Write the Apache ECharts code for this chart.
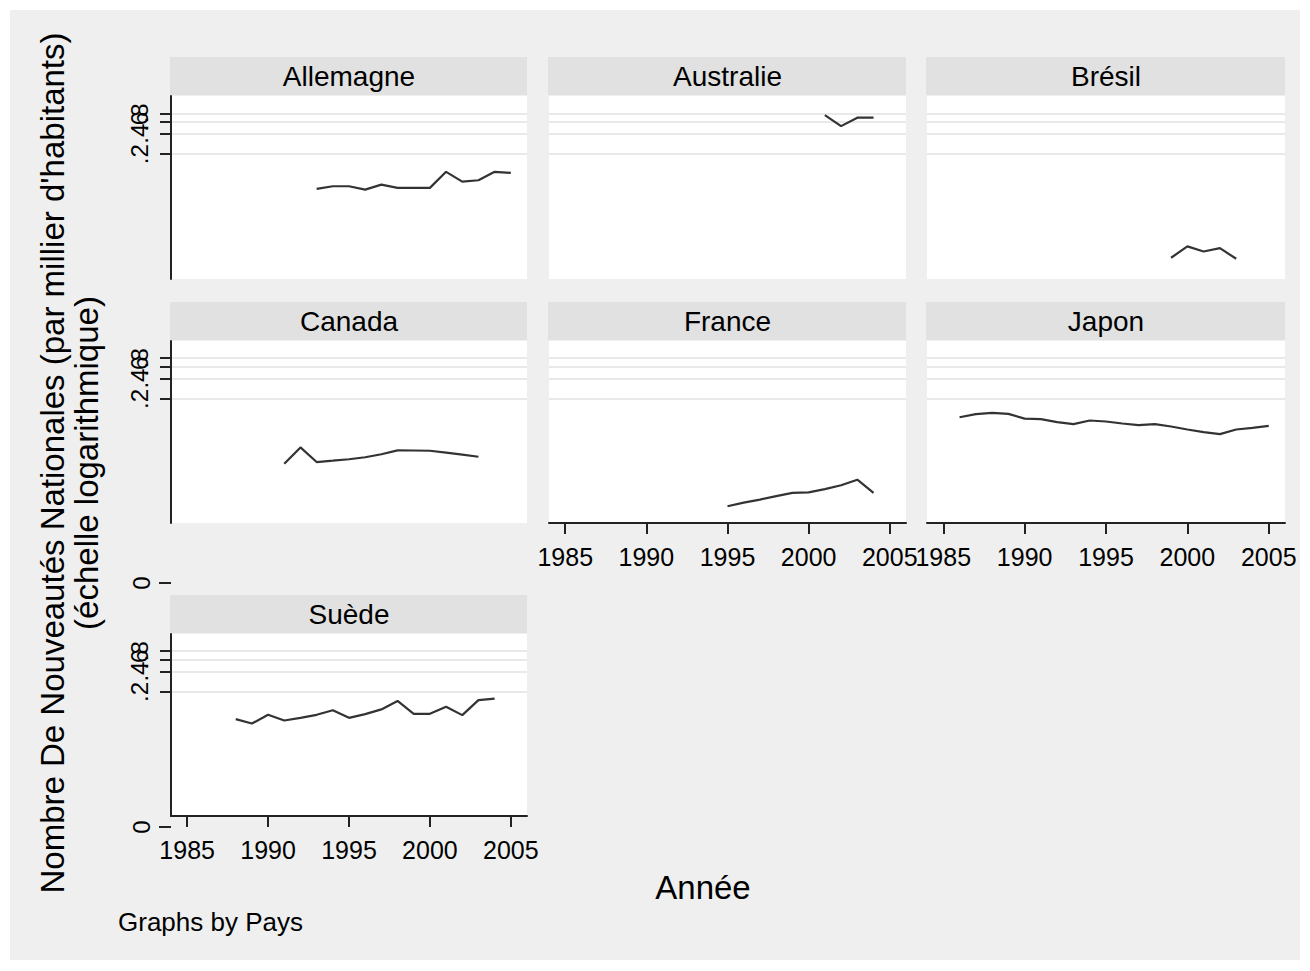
<!DOCTYPE html>
<html>
<head>
<meta charset="utf-8">
<script src="https://cdn.jsdelivr.net/npm/echarts@6/dist/echarts.min.js"></script>
<style>
html,body{margin:0;padding:0;background:#fff;}
#chart{width:1310px;height:971px;}
</style>
</head>
<body>
<div id="chart"></div>
<script>
// ---- Data (values per thousand inhabitants, log scale) ----
const panelNames = ['Allemagne', 'Australie', 'Brésil', 'Canada', 'France', 'Japon', 'Suède'];

const allemagneYears  = [1993, 1994, 1995, 1996, 1997, 1998, 1999, 2000, 2001, 2002, 2003, 2004, 2005];
const allemagneValues = [0.0616, 0.0674, 0.0674, 0.0602, 0.0713, 0.0638, 0.0638, 0.0638, 0.110, 0.079, 0.0826, 0.110, 0.106];

const australieYears  = [2001, 2002, 2003, 2004];
const australieValues = [0.754, 0.518, 0.690, 0.690];

const bresilYears  = [1999, 2000, 2001, 2002, 2003];
const bresilValues = [0.00596, 0.00876, 0.00738, 0.00828, 0.00576];

const canadaYears  = [1991, 1992, 1993, 1994, 1995, 1996, 1997, 1998, 1999, 2000, 2001, 2002, 2003];
const canadaValues = [0.0219, 0.0382, 0.0232, 0.0243, 0.0255, 0.0273, 0.0303, 0.0345, 0.0344, 0.0341, 0.0319, 0.0298, 0.0278];

const franceYears  = [1995, 1996, 1997, 1998, 1999, 2000, 2001, 2002, 2003, 2004];
const franceValues = [0.00513, 0.00582, 0.00645, 0.00726, 0.0081, 0.00826, 0.0092, 0.0105, 0.0127, 0.0081];

const japonYears  = [1986, 1987, 1988, 1989, 1990, 1991, 1992, 1993, 1994, 1995, 1996, 1997, 1998, 1999, 2000, 2001, 2002, 2003, 2004, 2005];
const japonValues = [0.107, 0.119, 0.124, 0.120, 0.102, 0.100, 0.0905, 0.0845, 0.0956, 0.0924, 0.0863, 0.0817, 0.0845, 0.078, 0.0704, 0.0644, 0.0602, 0.0704, 0.0746, 0.0798];

const suedeYears  = [1988, 1989, 1990, 1991, 1992, 1993, 1994, 1995, 1996, 1997, 1998, 1999, 2000, 2001, 2002, 2003, 2004];
const suedeValues = [0.079, 0.068, 0.0915, 0.0754, 0.0826, 0.0915, 0.107, 0.0826, 0.0937, 0.110, 0.147, 0.0947, 0.0947, 0.120, 0.0905, 0.151, 0.159];

const xTickValues = [1985, 1990, 1995, 2000, 2005];
const yTickValues = [0.2, 0.4, 0.6, 0.8];
const yTickLabels = ['.2', '.4', '.6', '.8'];
const zeroLabel = '0';

const yTitleLine1 = "Nombre De Nouveautés Nationales (par millier d'habitants)";
const yTitleLine2 = '(échelle logarithmique)';
const xTitle = 'Année';
const noteText = 'Graphs by Pays';

const panelYears = [allemagneYears, australieYears, bresilYears, canadaYears, franceYears, japonYears, suedeYears];
const panelValues = [allemagneValues, australieValues, bresilValues, canadaValues, franceValues, japonValues, suedeValues];

// ---- Layout ----
const colLeft = [171, 549, 927];
const colWidth = [356, 357, 358];
const rowTop = [96, 341, 634];
const rowHeight = [183, 182, 182];
const FONT = '"Liberation Sans", Arial, sans-serif';
const LINE = '#333333';
const AXIS = '#222222';
const Y_MIN = 0.0029, Y_MAX = 1.44;

// label groups drawn on separate (label-only) axes so the overlapping labels all stay visible, as in the original
const yLabelGroups = [[0.2, 0.8], [0.4], [0.6]];

function yLabelFormatter(v) {
  let best = 0;
  yTickValues.forEach((t, k) => { if (Math.abs(t - v) < Math.abs(yTickValues[best] - v)) best = k; });
  return yTickLabels[best];
}

const grids = [], xAxes = [], yAxes = [], extraYAxes = [], series = [], graphics = [];

graphics.push({type: 'rect', z: -100, silent: true, shape: {x: 10, y: 10, width: 1290, height: 950}, style: {fill: '#efefef'}});

panelNames.forEach((name, i) => {
  const col = i % 3, row = Math.floor(i / 3);
  const left = colLeft[col], top = rowTop[row], w = colWidth[col], h = rowHeight[row];
  grids.push({left: left, top: top, width: w, height: h, show: true, backgroundColor: '#ffffff', borderWidth: 0, containLabel: false});
  const showX = (i >= 4);
  const showY = (col === 0);
  xAxes.push({
    type: 'value', gridIndex: i, min: 1984, max: 2006,
    axisLine: {show: showX, onZero: false, lineStyle: {color: AXIS, width: 2}},
    axisTick: {show: showX, customValues: xTickValues, length: 11, lineStyle: {color: AXIS, width: 2}},
    axisLabel: {show: showX, customValues: xTickValues, fontSize: 25, fontFamily: FONT, color: '#000', margin: 21,
      showMinLabel: true, showMaxLabel: true, hideOverlap: false,
      formatter: function (v) { return String(Math.round(v)); }},
    splitLine: {show: false}
  });
  yAxes.push({
    type: 'log', gridIndex: i, min: Y_MIN, max: Y_MAX, logBase: 10,
    axisLine: {show: showY, lineStyle: {color: AXIS, width: 2}},
    axisTick: {show: showY, customValues: yTickValues, length: 11, lineStyle: {color: AXIS, width: 2}},
    axisLabel: {show: false, customValues: yTickValues},
    splitLine: {show: true, lineStyle: {color: '#e9e9e9', width: 2}}
  });
  if (showY) {
    yLabelGroups.forEach(group => {
      extraYAxes.push({
        type: 'log', gridIndex: i, min: Y_MIN, max: Y_MAX, logBase: 10, position: 'left', offset: 0,
        axisLine: {show: false}, axisTick: {show: false, customValues: group}, splitLine: {show: false},
        axisLabel: {show: true, customValues: group, rotate: 90, fontSize: 24, fontFamily: FONT, color: '#000', margin: 20,
          showMinLabel: true, showMaxLabel: true, hideOverlap: false, formatter: yLabelFormatter}
      });
    });
  }
  series.push({
    type: 'line', xAxisIndex: i, yAxisIndex: i, showSymbol: false, symbol: 'none',
    lineStyle: {color: LINE, width: 2.2}, silent: true, animation: false,
    data: panelYears[i].map((yr, k) => [yr, panelValues[i][k]])
  });
  // strip header
  graphics.push({type: 'rect', z: 1, silent: true, shape: {x: left - 1, y: top - 39, width: w + 1, height: 38}, style: {fill: '#e1e1e1'}});
  graphics.push({type: 'text', z: 2, silent: true, x: left + w / 2, y: top - 20,
    style: {text: name, font: '28px ' + FONT, fill: '#000', textAlign: 'center', textVerticalAlign: 'middle'}});
});

// zero labels (outside the log range, as in the original)
[583, 827].forEach(yy => {
  graphics.push({type: 'line', z: 2, silent: true, shape: {x1: 159, y1: yy, x2: 171, y2: yy}, style: {stroke: AXIS, lineWidth: 2}});
  graphics.push({type: 'text', z: 2, silent: true, x: 141, y: yy, rotation: Math.PI / 2,
    style: {text: zeroLabel, font: '24px ' + FONT, fill: '#000', textAlign: 'center', textVerticalAlign: 'middle'}});
});

// titles
graphics.push({type: 'text', z: 2, silent: true, x: 52, y: 463, rotation: Math.PI / 2,
  style: {text: yTitleLine1, font: '33px ' + FONT, fill: '#000', textAlign: 'center', textVerticalAlign: 'middle'}});
graphics.push({type: 'text', z: 2, silent: true, x: 86, y: 463, rotation: Math.PI / 2,
  style: {text: yTitleLine2, font: '33px ' + FONT, fill: '#000', textAlign: 'center', textVerticalAlign: 'middle'}});
graphics.push({type: 'text', z: 2, silent: true, x: 703, y: 887,
  style: {text: xTitle, font: '33px ' + FONT, fill: '#000', textAlign: 'center', textVerticalAlign: 'middle'}});
graphics.push({type: 'text', z: 2, silent: true, x: 118, y: 922,
  style: {text: noteText, font: '26px ' + FONT, fill: '#000', textAlign: 'left', textVerticalAlign: 'middle'}});

const chart = echarts.init(document.getElementById('chart'), null, {renderer: 'svg'});
chart.setOption({
  backgroundColor: '#ffffff',
  animation: false,
  grid: grids,
  xAxis: xAxes,
  yAxis: yAxes.concat(extraYAxes),
  series: series,
  graphic: graphics
});
</script>
</body>
</html>
